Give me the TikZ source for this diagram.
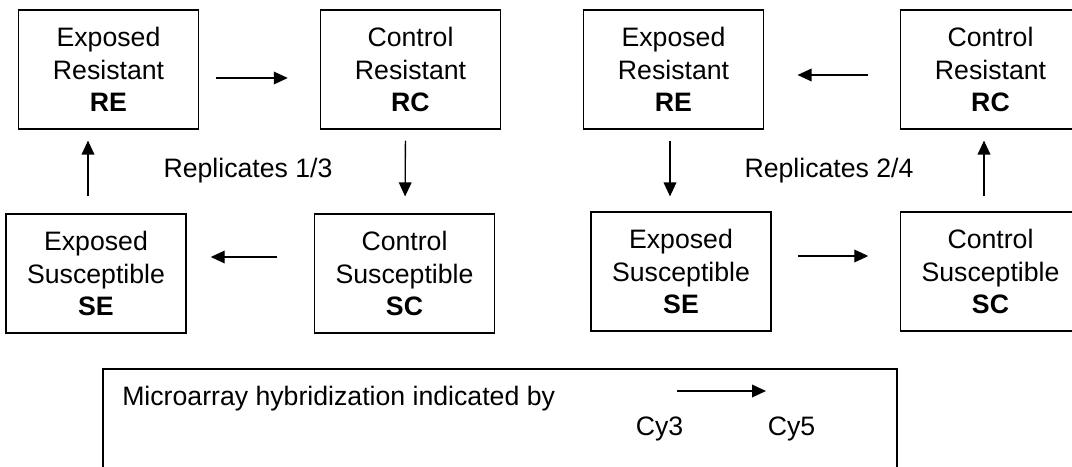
\documentclass[tikz,border=0pt]{standalone}
\usepackage{fontspec}
\setmainfont{Liberation Sans}
\usetikzlibrary{positioning,calc,arrows.meta}

\begin{document}
\begin{tikzpicture}[
    x=0.75pt, y=-0.75pt,
    group/.style={rectangle, draw=black, line width=1.1pt, minimum width=135pt, minimum height=89pt, align=center, inner sep=0pt, font=\fontsize{20}{24.4}\selectfont},
    reptext/.style={font=\fontsize{20}{24.4}\selectfont, inner sep=0pt, anchor=base},
    legendbox/.style={rectangle, draw=black, line width=1.1pt, minimum width=595.5pt, minimum height=112pt, inner sep=0pt},
    hyb/.style={-{Triangle[length=10.5pt, width=9.5pt]}, line width=1pt}
]
    \useasboundingbox (0,0) rectangle (1072,467);
    \clip (0,0) rectangle (1072,467);

    % Replicates 1/3
    \node[group] (reL) at (108.5,69.5) {Exposed\\Resistant\\\textbf{RE}};
    \node[group] (rcL) at (410.5,69.5) {Control\\Resistant\\\textbf{RC}};
    \node[group] (seL) at (96,273.5) {Exposed\\Susceptible\\\textbf{SE}};
    \node[group] (scL) at (404.5,273.5) {Control\\Susceptible\\\textbf{SC}};
    \node[reptext] (rep13) at (248,177) {Replicates 1/3};

    % Replicates 2/4
    \node[group] (reR) at (673.5,69.5) {Exposed\\Resistant\\\textbf{RE}};
    \node[group] (rcR) at (990.5,69.5) {Control\\Resistant\\\textbf{RC}};
    \node[group] (seR) at (681,271.5) {Exposed\\Susceptible\\\textbf{SE}};
    \node[group] (scR) at (990.5,271.5) {Control\\Susceptible\\\textbf{SC}};
    \node[reptext] (rep24) at (829,177) {Replicates 2/4};

    % Hybridizations, replicates 1/3
    \draw[hyb, shorten <=12.75pt, shorten >=24pt] ($(reL.east)+(0,8.5)$) -- ($(rcL.west)+(0,8.5)$);
    \draw[hyb, shorten <=8.25pt, shorten >=12.75pt] ($(rcL.south)+(-5,0)$) -- ($(scL.north)+(0.5,0)$);
    \draw[hyb, shorten <=27.75pt, shorten >=18pt] ($(scL.west)+(0,-16.5)$) -- ($(seL.east)+(0,-16.5)$);
    \draw[hyb, shorten <=12.75pt, shorten >=8.25pt] ($(seL.north)+(-8,0)$) -- ($(reL.south)+(-20.5,0)$);

    % Hybridizations, replicates 2/4
    \draw[hyb, shorten <=23.6pt, shorten >=25pt] ($(rcR.west)+(0,5.5)$) -- ($(reR.east)+(0,5.5)$);
    \draw[hyb, shorten <=8.25pt, shorten >=11.25pt] ($(reR.south)+(-3.5,0)$) -- ($(seR.north)+(-11,0)$);
    \draw[hyb, shorten <=19.5pt, shorten >=23.6pt] ($(seR.east)+(0,-15.5)$) -- ($(scR.west)+(0,-15.5)$);
    \draw[hyb, shorten <=11.25pt, shorten >=8.25pt] ($(scR.north)+(-6.5,0)$) -- ($(rcR.south)+(-6.5,0)$);

    % Legend
    \node[legendbox] (legend) at (500,443.7) {};
    \node[reptext, anchor=base west] (hybtext) at (122,405) {Microarray hybridization indicated by};
    \node[reptext] (cy3) at (659.5,435) {Cy3};
    \node[reptext] (cy5) at (791.5,435) {Cy5};
    \coordinate (cyfrom) at (677,391);
    \coordinate (cyto) at (766,391);
    \draw[hyb] (cyfrom) -- (cyto);
\end{tikzpicture}
\end{document}
